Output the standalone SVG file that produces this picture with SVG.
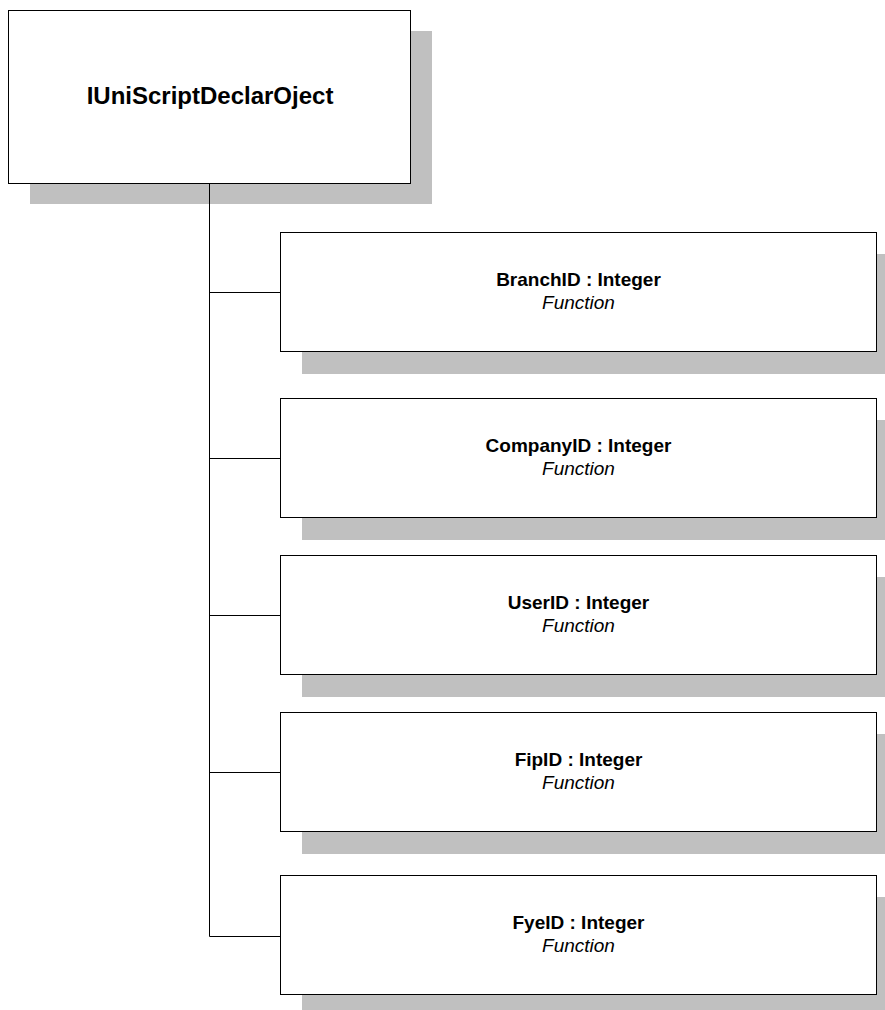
<svg xmlns="http://www.w3.org/2000/svg" width="885" height="1010" viewBox="0 0 885 1010">
<style>
.shadow{fill:#c0c0c0;stroke:none}
.box{fill:#fff;stroke:#000;stroke-width:1}
.conn{stroke:#000;stroke-width:1;fill:none}
.title{font-family:"Liberation Sans",Arial,sans-serif;font-weight:bold;font-size:24px;text-anchor:middle;fill:#000}
.name{font-family:"Liberation Sans",Arial,sans-serif;font-weight:bold;font-size:19px;text-anchor:middle;fill:#000}
.kind{font-family:"Liberation Sans",Arial,sans-serif;font-style:italic;font-size:19px;text-anchor:middle;fill:#000}
</style>
<rect width="885" height="1010" fill="#fff"/>
<g id="root">
<rect class="shadow" x="30" y="31" width="402" height="173"/>
<rect class="box" x="8.5" y="10.5" width="402" height="173"/>
<text class="title" x="210" y="104">IUniScriptDeclarOject</text>
</g>
<g id="connectors">
<path class="conn" d="M209.5 183.5V936.5M209.5 292.5H280M209.5 458.5H280M209.5 615.5H280M209.5 772.5H280M209.5 936.5H280"/>
</g>
<g id="branchid">
<rect class="shadow" x="302" y="254" width="583" height="120"/>
<rect class="box" x="280.5" y="232.5" width="596" height="119"/>
<text class="name" x="578.5" y="286">BranchID : Integer</text>
<text class="kind" x="578.5" y="309">Function</text>
</g>
<g id="companyid">
<rect class="shadow" x="302" y="420" width="583" height="120"/>
<rect class="box" x="280.5" y="398.5" width="596" height="119"/>
<text class="name" x="578.5" y="452">CompanyID : Integer</text>
<text class="kind" x="578.5" y="475">Function</text>
</g>
<g id="userid">
<rect class="shadow" x="302" y="577" width="583" height="120"/>
<rect class="box" x="280.5" y="555.5" width="596" height="119"/>
<text class="name" x="578.5" y="609">UserID : Integer</text>
<text class="kind" x="578.5" y="632">Function</text>
</g>
<g id="fipid">
<rect class="shadow" x="302" y="734" width="583" height="120"/>
<rect class="box" x="280.5" y="712.5" width="596" height="119"/>
<text class="name" x="578.5" y="766">FipID : Integer</text>
<text class="kind" x="578.5" y="789">Function</text>
</g>
<g id="fyeid">
<rect class="shadow" x="302" y="897" width="583" height="113"/>
<rect class="box" x="280.5" y="875.5" width="596" height="119"/>
<text class="name" x="578.5" y="929">FyeID : Integer</text>
<text class="kind" x="578.5" y="952">Function</text>
</g>
</svg>
